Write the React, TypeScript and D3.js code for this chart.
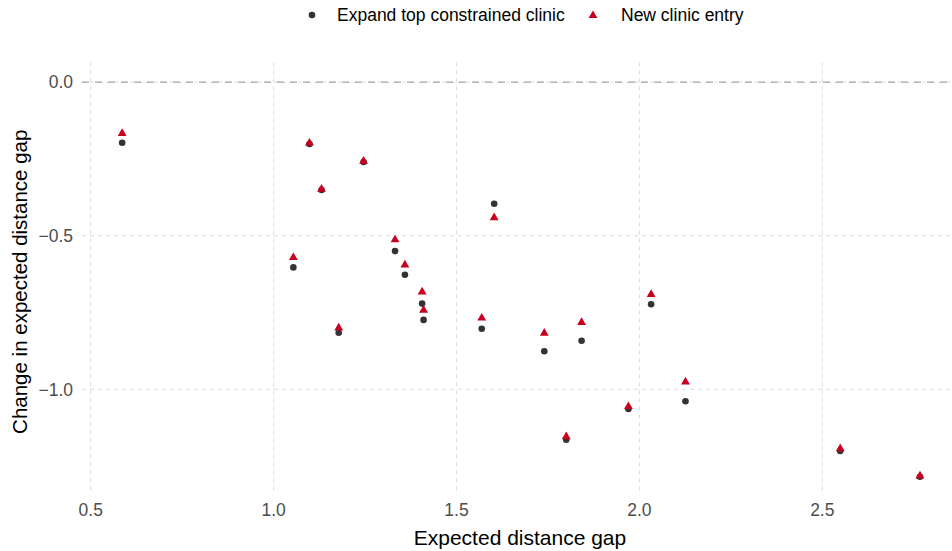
import React from "react";
import * as d3 from "d3";

// Expected distance gap per clinic area
const gap = [0.586, 1.098, 1.246, 1.131, 1.054, 1.178, 1.332, 1.359, 1.406, 1.41, 1.603, 1.569, 1.74, 1.842, 2.032, 2.126, 1.97, 1.8, 2.549, 2.767];
// Change in expected distance gap: expanding the top constrained clinic
const expandChange = [-0.197, -0.201, -0.26, -0.351, -0.603, -0.816, -0.55, -0.627, -0.721, -0.774, -0.396, -0.803, -0.876, -0.842, -0.723, -1.039, -1.064, -1.164, -1.201, -1.285];
// Change in expected distance gap: new clinic entry
const entryChange = [-0.167, -0.198, -0.257, -0.348, -0.571, -0.8, -0.513, -0.595, -0.683, -0.742, -0.441, -0.768, -0.817, -0.782, -0.691, -0.976, -1.056, -1.154, -1.193, -1.282];

const xTicks = [0.5, 1.0, 1.5, 2.0, 2.5];
const yTicks = [0.0, -0.5, -1.0];
const seriesNames = ["Expand top constrained clinic", "New clinic entry"];

const W = 952;
const H = 551;
const FONT = "'Liberation Sans', Arial, Helvetica, sans-serif";
const DARK = "#333333";
const RED = "#C8001E";

const panel = { left: 82, right: 950, top: 62.5, bottom: 495 };

function fmt(v: number) {
  const s = Math.abs(v).toFixed(1);
  return v < 0 ? "\u2212" + s : s;
}

export default function App() {
  const x = d3.scaleLinear().domain([0.5, 2.5]).range([90.7, 822.3]);
  const y = d3.scaleLinear().domain([0, -1]).range([82.2, 389.3]);
  const tri = d3.symbol().type(d3.symbolTriangle).size(34)() as string;

  return (
    <svg width={W} height={H} style={{ display: "block", position: "absolute", left: 0, top: 0 }} fontFamily={FONT}>
      <rect width={W} height={H} fill="#fff" />
      {/* grid */}
      {xTicks.map((t) => (
        <line key={"gx" + t} x1={x(t)} x2={x(t)} y1={panel.top} y2={panel.bottom} stroke="#DEDEDE" strokeWidth={1.1} strokeDasharray="4,4" />
      ))}
      {yTicks.map((t) => (
        <line key={"gy" + t} x1={panel.left} x2={panel.right} y1={y(t)} y2={y(t)} stroke="#DEDEDE" strokeWidth={1.1} strokeDasharray="4,4" />
      ))}
      {/* zero reference */}
      <line x1={panel.left} x2={panel.right} y1={y(0)} y2={y(0)} stroke="#A6A6A6" strokeWidth={1.3} strokeDasharray="7,6" />

      {/* points */}
      {gap.map((g, i) => (
        <circle key={"c" + i} cx={x(g)} cy={y(expandChange[i])} r={3.3} fill={DARK} />
      ))}
      {gap.map((g, i) => (
        <path key={"t" + i} d={tri} transform={`translate(${x(g)},${y(entryChange[i])})`} fill={RED} />
      ))}

      {/* axis labels */}
      {xTicks.map((t) => (
        <text key={"xl" + t} x={x(t)} y={516} textAnchor="middle" fontSize={17.5} fill="#4D4D4D">
          {fmt(t)}
        </text>
      ))}
      {yTicks.map((t) => (
        <text key={"yl" + t} x={73} y={y(t) + 6.2} textAnchor="end" fontSize={17.5} fill="#4D4D4D">
          {fmt(t)}
        </text>
      ))}
      <text x={(panel.left + panel.right) / 2 + 4} y={545} textAnchor="middle" fontSize={21} fill="#000">
        Expected distance gap
      </text>
      <text transform={`translate(27,${(panel.top + panel.bottom) / 2 + 3}) rotate(-90)`} textAnchor="middle" fontSize={20.5} fill="#000">
        Change in expected distance gap
      </text>

      {/* legend */}
      <circle cx={312} cy={15} r={3.3} fill={DARK} />
      <text x={337} y={21.3} fontSize={17.5} fill="#000">{seriesNames[0]}</text>
      <path d={tri} transform="translate(593,15.5)" fill={RED} />
      <text x={621} y={21.3} fontSize={17.5} fill="#000">{seriesNames[1]}</text>
    </svg>
  );
}
